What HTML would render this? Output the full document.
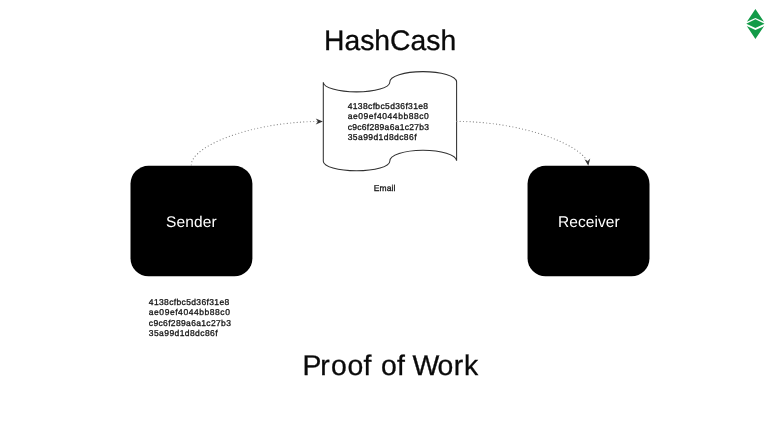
<!DOCTYPE html>
<html lang="en">
<head>
<meta charset="utf-8">
<title>HashCash - Proof of Work</title>
<style>
html,body{margin:0;padding:0;background:#fff;}
body{width:780px;height:437px;overflow:hidden;position:relative;font-family:"Liberation Sans",sans-serif;}
svg{position:absolute;left:0;top:0;display:block;}
text{font-family:"Liberation Sans",sans-serif;text-rendering:geometricPrecision;}
svg{will-change:transform;}
</style>
</head>
<body>
<svg width="780" height="437" viewBox="0 0 780 437">
  <rect width="780" height="437" fill="#ffffff"/>

  <!-- Titles -->
  <text x="324" y="50" font-size="28.3" fill="#0a0a0a" stroke="#0a0a0a" stroke-width="0.3" textLength="132.2" lengthAdjust="spacing">HashCash</text>
  <text y="375" font-size="28.4" fill="#0a0a0a" stroke="#0a0a0a" stroke-width="0.3" x="302.4 320.3 331 347.4 363.6 372 381 397.1 405 412.5 437.4 453.8 464.1">Proof of Work</text>

  <!-- Sender / Receiver boxes -->
  <rect x="130.5" y="165.85" width="121.9" height="110.5" rx="18" ry="18" fill="#000"/>
  <rect x="527.55" y="165.85" width="121.95" height="110.5" rx="18" ry="18" fill="#000"/>
  <text x="165.9" y="226.6" font-size="15.5" fill="#fff" textLength="50.8" lengthAdjust="spacing">Sender</text>
  <text x="558.1" y="226.7" font-size="15.5" fill="#fff" textLength="61.5" lengthAdjust="spacing">Receiver</text>

  <!-- Email document -->
  <path d="M323.3,82.2 A33.25,9.7 0 0 0 389.8,82.2 A33.4,10.4 0 0 1 456.6,81.8 L456.6,160.8 A33.4,10.8 0 0 0 389.8,161.2 A33.25,9.6 0 0 1 323.3,161.2 Z" fill="#fff" stroke="#303030" stroke-width="1.05" stroke-linejoin="miter"/>
  <g font-size="8.5" fill="#151515" stroke="#151515" stroke-width="0.3">
    <text x="347.7" y="108.7" textLength="80.4" lengthAdjust="spacing">4138cfbc5d36f31e8</text>
    <text x="347.7" y="119.1" textLength="81.1" lengthAdjust="spacing">ae09ef4044bb88c0</text>
    <text x="347.7" y="129.5" textLength="81.4" lengthAdjust="spacing">c9c6f289a6a1c27b3</text>
    <text x="347.7" y="139.9" textLength="68.8" lengthAdjust="spacing">35a99d1d8dc86f</text>
    <text x="373.8" y="191" textLength="21.6" lengthAdjust="spacing">Email</text>
  </g>

  <!-- Sender hash -->
  <g font-size="8.5" fill="#151515" stroke="#151515" stroke-width="0.3">
    <text x="148.8" y="304.8" textLength="80.4" lengthAdjust="spacing">4138cfbc5d36f31e8</text>
    <text x="148.8" y="315.3" textLength="81.1" lengthAdjust="spacing">ae09ef4044bb88c0</text>
    <text x="148.8" y="325.7" textLength="82.1" lengthAdjust="spacing">c9c6f289a6a1c27b3</text>
    <text x="148.8" y="336.2" textLength="68.8" lengthAdjust="spacing">35a99d1d8dc86f</text>
  </g>

  <!-- Dotted connectors -->
  <g fill="none" stroke="#888888" stroke-width="1.2" stroke-linecap="round" stroke-dasharray="0.01 3.3">
    <path d="M191.3,165.0 C191.3,146.9 247.5,122.6 317.2,121.4"/>
    <path d="M456.8,121.4 C520.8,121.4 579.5,143.9 587.4,161.7"/>
  </g>
  <!-- Arrow heads -->
  <path d="M322.9,121.5 L315.7,118.6 L318,121.5 L315.7,124.4 Z" fill="#333"/>
  <path d="M588.3,165.8 L584.5,159.2 L587.6,161.3 L590.2,158.5 Z" fill="#333"/>

  <!-- Ethereum Classic logo -->
  <g fill="#139b48">
    <path d="M755.4,9.1 L764,21.8 L755.4,18.1 L746.9,21.8 Z"/>
    <path d="M755.4,19.2 L764.5,23.7 L755.4,28.1 L746.3,23.7 Z"/>
    <path d="M746.8,26.1 L755.4,30 L764.1,26.1 L755.4,38.9 Z"/>
  </g>
</svg>
</body>
</html>
